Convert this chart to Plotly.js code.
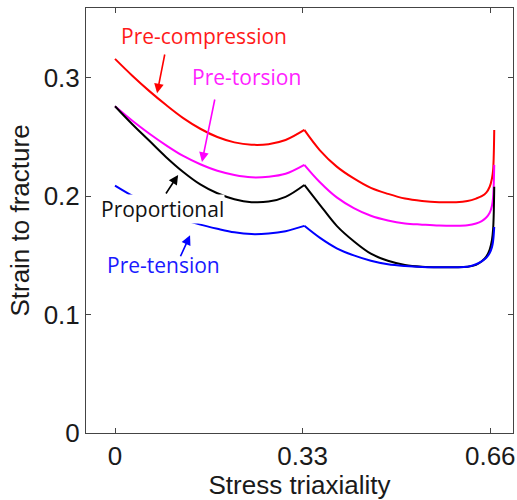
<!DOCTYPE html>
<html>
<head>
<meta charset="utf-8">
<script src="https://cdn.plot.ly/plotly-3.0.1.min.js"></script>
<style>
  html, body { margin: 0; padding: 0; background: #fff; }
  #chart { width: 517px; height: 500px; }
</style>
</head>
<body>
<div id="chart"></div>
<script>
// Fracture strain versus stress triaxiality for four loading histories.
// Every curve shares the same triaxiality samples; the kink sits at 1/3.
const triaxiality = [0, 0.03, 0.06, 0.09, 0.12, 0.15, 0.18, 0.21, 0.24, 0.27, 0.30, 0.333,
  0.36, 0.39, 0.42, 0.45, 0.48, 0.51, 0.54, 0.57, 0.60, 0.62, 0.635, 0.645, 0.653, 0.659,
  0.663, 0.665, 0.666, 0.667];

const preCompression = [0.316, 0.302, 0.289, 0.277, 0.266, 0.257, 0.250, 0.2455, 0.2435, 0.244, 0.2475, 0.256,
  0.239, 0.225, 0.215, 0.207, 0.202, 0.198, 0.196, 0.195, 0.195, 0.196, 0.198, 0.200, 0.203, 0.208,
  0.215, 0.222, 0.232, 0.256];

const preTorsion = [0.276, 0.264, 0.253, 0.243, 0.234, 0.227, 0.2215, 0.218, 0.216, 0.2165, 0.219, 0.2265,
  0.212, 0.199, 0.190, 0.1835, 0.1795, 0.177, 0.176, 0.1752, 0.175, 0.1755, 0.177, 0.179, 0.182, 0.186,
  0.192, 0.199, 0.208, 0.2265];

const proportional = [0.276, 0.261, 0.247, 0.233, 0.2205, 0.210, 0.2025, 0.1975, 0.195, 0.1955, 0.1995, 0.2095,
  0.193, 0.175, 0.162, 0.1515, 0.1455, 0.142, 0.1405, 0.140, 0.140, 0.1405, 0.142, 0.145, 0.149, 0.155,
  0.163, 0.172, 0.183, 0.208];

const preTension = [0.209, 0.2005, 0.193, 0.1865, 0.1805, 0.176, 0.1725, 0.1695, 0.168, 0.1685, 0.1705, 0.175,
  0.165, 0.156, 0.150, 0.1455, 0.1425, 0.141, 0.1402, 0.140, 0.140, 0.1405, 0.1425, 0.145, 0.148, 0.152,
  0.157, 0.162, 0.167, 0.174];

const xTickVals = [0, 0.33, 0.66];
const xTickText = ['0', '0.33', '0.66'];
const yTickVals = [0, 0.1, 0.2, 0.3];
const yTickText = ['0', '0.1', '0.2', '0.3'];

const seriesNames = ['Pre-compression', 'Pre-torsion', 'Proportional', 'Pre-tension'];
const seriesColors = ['#ff0000', '#ff00ff', '#000000', '#0000ff'];
const seriesValues = [preCompression, preTorsion, proportional, preTension];

// index of the kink at triaxiality 1/3
const kink = triaxiality.indexOf(0.333);

// each curve is drawn as two smooth pieces joined at the kink so the corner stays sharp
const traces = [];
seriesValues.forEach((vals, i) => {
  [[0, kink + 1], [kink, triaxiality.length]].forEach(([a, b]) => {
    traces.push({
      x: triaxiality.slice(a, b),
      y: vals.slice(a, b),
      type: 'scatter',
      mode: 'lines',
      name: seriesNames[i],
      line: { color: seriesColors[i], width: 2, shape: 'spline', smoothing: 1 },
      hoverinfo: 'skip'
    });
  });
});

const labelFont = (color) => ({ family: 'Open Sans, sans-serif', size: 21, color });

// series labels
const labels = [
  { text: 'Pre-compression', x: 0.156, y: 0.335, color: '#ff1a1a' },
  { text: 'Pre-torsion', x: 0.231, y: 0.301, color: '#ff22ff' },
  { text: 'Proportional', x: 0.084, y: 0.189, color: '#111111', bg: '#ffffff' },
  { text: 'Pre-tension', x: 0.086, y: 0.142, color: '#1a1aff' }
].map(l => ({
  text: l.text, x: l.x, y: l.y, xref: 'x', yref: 'y',
  showarrow: false, xanchor: 'center', yanchor: 'middle',
  font: labelFont(l.color),
  bgcolor: l.bg || 'rgba(0,0,0,0)',
  borderpad: 0
}));

// pointer arrows from each label to its curve
const arrows = [
  { tx: 0.088, ty: 0.321, hx: 0.074, hy: 0.287, color: '#ff0000' },
  { tx: 0.176, ty: 0.283, hx: 0.153, hy: 0.229, color: '#ff00ff' },
  { tx: 0.088, ty: 0.201, hx: 0.111, hy: 0.218, color: '#000000' },
  { tx: 0.114, ty: 0.148, hx: 0.132, hy: 0.167, color: '#0000ff' }
].map(a => ({
  text: '', x: a.hx, y: a.hy, ax: a.tx, ay: a.ty,
  xref: 'x', yref: 'y', axref: 'x', ayref: 'y',
  showarrow: true, arrowhead: 2, arrowsize: 1.2, arrowwidth: 1.6,
  arrowcolor: a.color, standoff: 0, startstandoff: 0
}));

const axisFont = { family: 'Liberation Sans, Arial, sans-serif', size: 26, color: '#1a1a1a' };

const layout = {
  width: 517, height: 500,
  margin: { l: 86, r: 4, t: 8, b: 67 },
  paper_bgcolor: '#ffffff', plot_bgcolor: '#ffffff',
  showlegend: false,
  xaxis: {
    range: [-0.051, 0.70],
    tickvals: xTickVals, ticktext: xTickText,
    ticks: 'inside', ticklen: 5, tickcolor: '#444', tickwidth: 1,
    showline: true, linecolor: '#444', linewidth: 1, mirror: 'ticks',
    showgrid: false, zeroline: false,
    tickfont: axisFont,
    title: { text: 'Stress triaxiality', font: axisFont, standoff: 2 }
  },
  yaxis: {
    range: [0, 0.359],
    tickvals: yTickVals, ticktext: yTickText,
    ticks: 'inside', ticklen: 5, tickcolor: '#444', tickwidth: 1,
    showline: true, linecolor: '#444', linewidth: 1, mirror: 'ticks',
    showgrid: false, zeroline: false,
    tickfont: axisFont,
    title: { text: 'Strain to fracture', font: axisFont, standoff: 6 }
  },
  annotations: labels.concat(arrows)
};

Plotly.newPlot('chart', traces, layout, { staticPlot: true, displayModeBar: false });
</script>
</body>
</html>
